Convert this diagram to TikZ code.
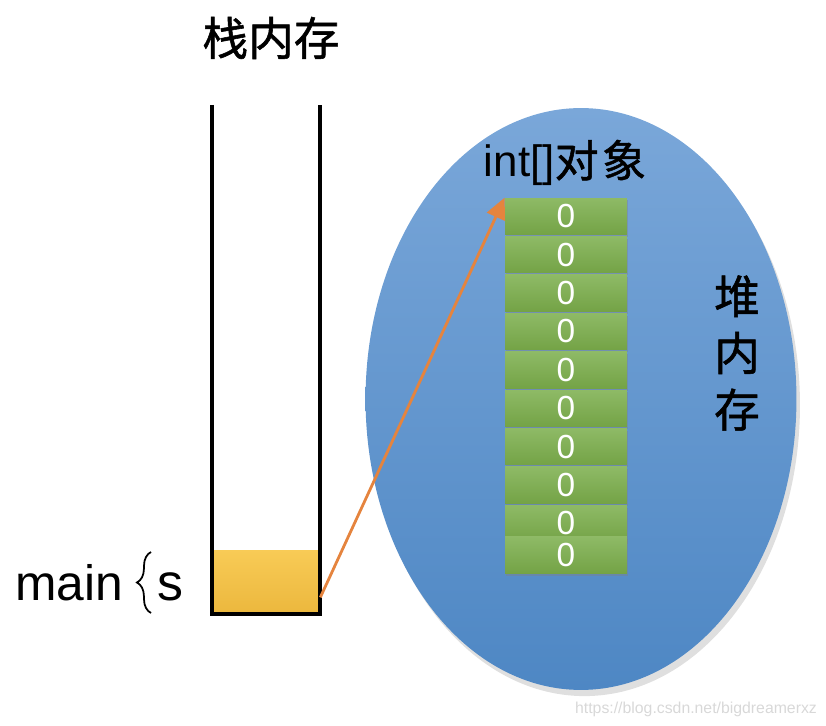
\documentclass[tikz,border=0pt]{standalone}
\usepackage{fontspec}
\setmainfont{Liberation Sans}
\newfontfamily\cjk[FakeBold=1.2]{Noto Sans CJK SC}
\usepackage{xcolor}
\definecolor{heaptop}{RGB}{122,167,217}
\definecolor{heapbot}{RGB}{78,135,196}
\definecolor{celltop}{RGB}{142,186,102}
\definecolor{cellbot}{RGB}{116,163,70}
\definecolor{slottop}{RGB}{248,203,86}
\definecolor{slotbot}{RGB}{236,184,62}
\definecolor{refline}{RGB}{229,132,62}
\definecolor{wmgray}{RGB}{216,216,216}
\usepackage{tikz}
\usetikzlibrary{arrows.meta, calc, shapes.geometric, shadows, decorations.pathreplacing}

\tikzset{
    heap/.style={ellipse, inner sep=0pt, minimum width=8.62cm, minimum height=11.64cm,
        top color=heaptop, bottom color=heapbot,
        drop shadow={opacity=0.25, shadow xshift=2pt, shadow yshift=-3.5pt}},
    cell/.style={rectangle, inner sep=0pt, minimum width=2.44cm, minimum height=0.73cm,
        top color=celltop, bottom color=cellbot, text=white,
        font=\fontsize{19}{19}\selectfont,
        drop shadow={opacity=0.4, shadow xshift=0.6pt, shadow yshift=-1.4pt}},
    slot/.style={rectangle, inner sep=0pt, minimum width=2.16cm, minimum height=1.24cm,
        top color=slottop, bottom color=slotbot},
    wall/.style={line width=2.3pt, line join=miter},
    refarrow/.style={refline, line width=1.6pt, -{Triangle[length=12pt, width=11pt]}},
}

\begin{document}
\begin{tikzpicture}[x=0.02cm, y=-0.02cm]
    \useasboundingbox (0,0) rectangle (826,726);
    % Heap memory
    \node[heap] (heap) at (581,399) {};
    \node[font=\cjk\fontsize{26}{32.3}\selectfont, align=center] (heapname) at (737,353) {堆\\内\\存};
    \node[font=\fontsize{25}{25}\selectfont] (arrname) at (565,163) {int[]{\cjk 对\hspace{2pt}象}};
    % Array cells
    \foreach \i in {1,...,9}
        \node[cell] (c\i) at (566,{216.25+(\i-1)*38.4}) {0};
    \node[cell] (c10) at (566,555) {0};
    % Stack memory
    \node[font=\cjk\fontsize{26}{26}\selectfont] (stackname) at (271,38) {栈内存};
    \node[slot] (slot) at (266,581) {};
    \draw[wall] (212,105) -- (212,614) -- (320,614) -- (320,105);
    \node[font=\fontsize{28.3}{28.3}\selectfont, anchor=base west, inner sep=0pt] (main) at (15,601) {main};
    \draw[decorate, decoration={brace, amplitude=8pt}, line width=1pt] (151,613) -- (151,552);
    \node[font=\fontsize{29.5}{29.5}\selectfont, anchor=base west, inner sep=0pt] (var) at (157,601) {s};
    % Reference from s to the array
    \draw[refarrow] ($(slot.south east)+(0,-15)$) -- (c1.north west);
    % Watermark
    \node[text=wmgray, font=\fontsize{9}{9}\selectfont] (wm) at (696,709) {https://blog.csdn.net/bigdreamerxz};
\end{tikzpicture}
\end{document}
